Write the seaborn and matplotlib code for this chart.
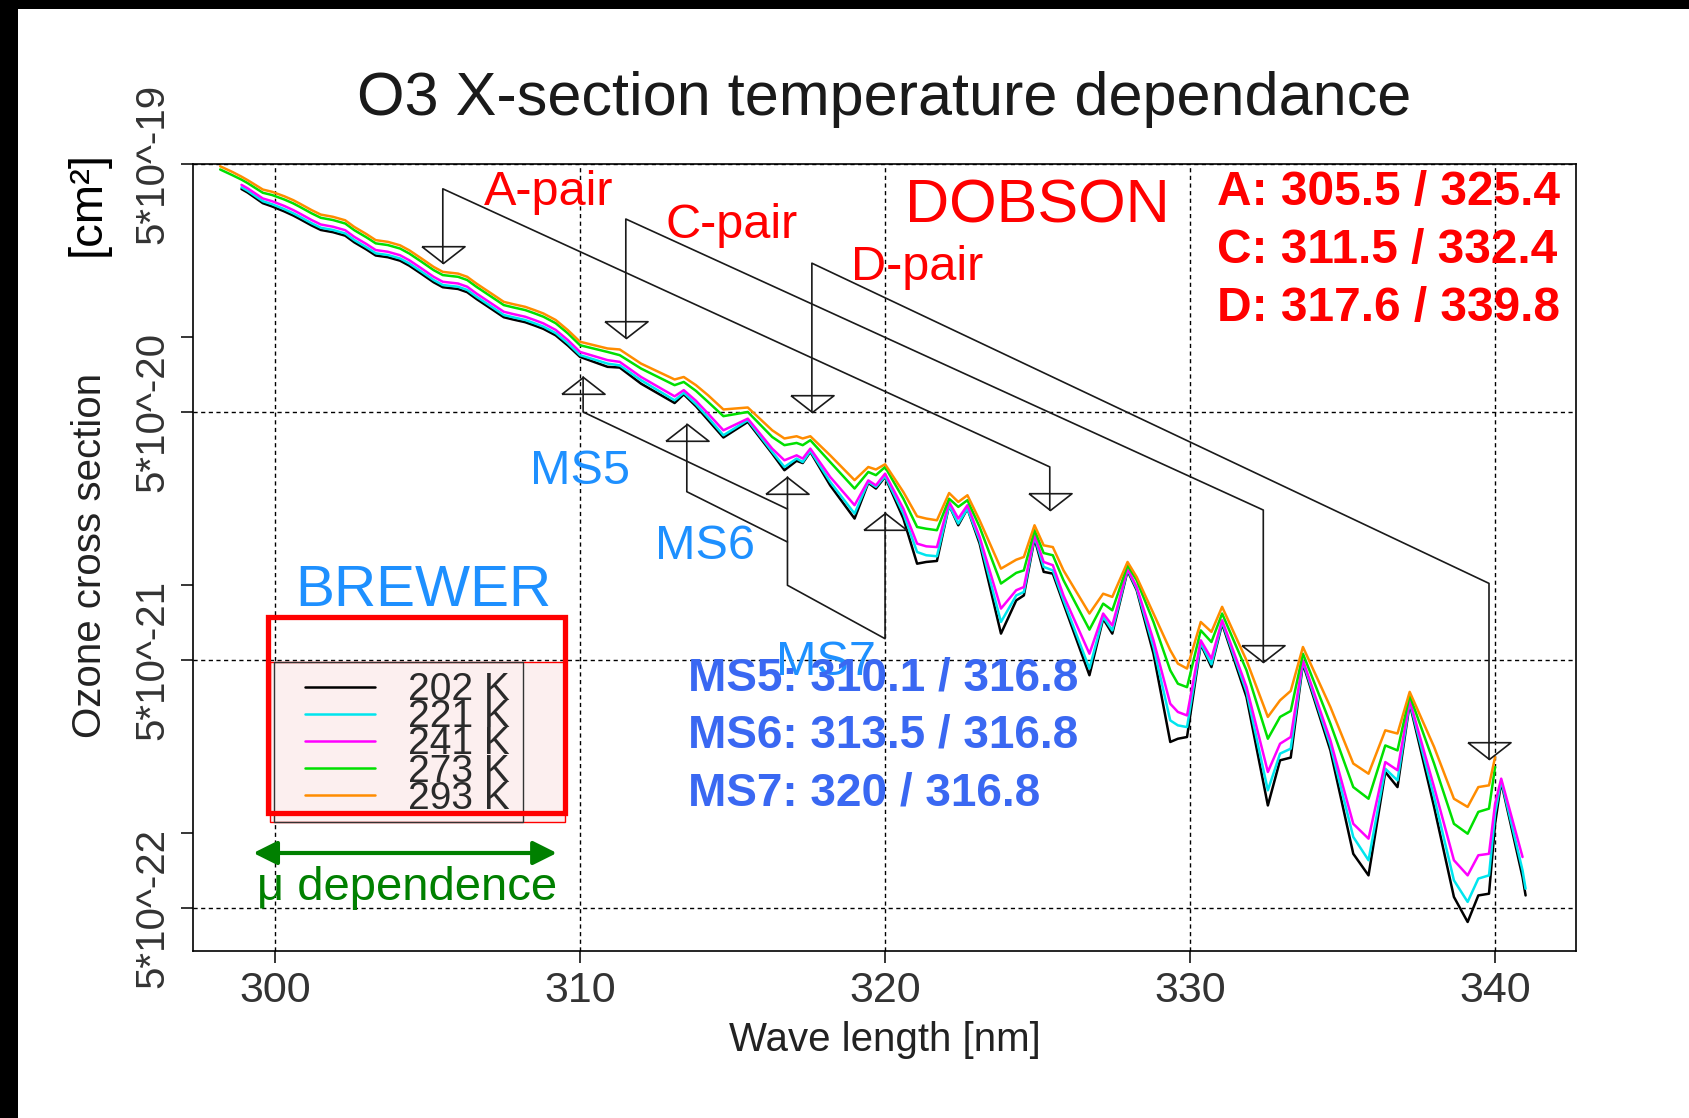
import matplotlib
matplotlib.use("Agg")
import matplotlib.pyplot as plt
import matplotlib.transforms as mtransforms
from matplotlib.patches import Rectangle
from matplotlib.ticker import NullFormatter
import numpy as np
import pandas as pd
import seaborn as sns

nan = np.nan

# wavelength grid [nm] and log10 of the O3 cross section [cm^2]
wavelength = [
    298.2, 298.6, 298.9, 299.1, 299.6, 299.9, 300.3, 300.6, 300.8, 301.2, 301.5,
    301.9, 302.3, 302.6, 303.0, 303.3, 303.7, 304.1, 304.4, 304.8, 305.2, 305.5,
    306.0, 306.3, 306.6, 307.1, 307.5, 307.8, 308.2, 308.5, 308.8, 309.2, 309.6,
    310.0, 310.9, 311.3, 312.0, 313.1, 313.4, 313.8, 314.2, 314.7, 315.5, 316.3,
    316.7, 317.1, 317.3, 317.55, 318.2, 319.0, 319.45, 319.7, 320.0,
    320.6, 321.05, 321.35, 321.7, 322.1, 322.4, 322.7, 323.1, 323.8, 324.3,
    324.55, 324.9, 325.2, 325.5, 325.85, 326.7, 327.15, 327.45, 327.95, 328.25,
    328.8, 329.35, 329.6, 329.9,
    330.35, 330.7, 331.05, 331.85, 332.55, 332.95, 333.3, 333.7, 334.6, 335.35,
    335.85, 336.4, 336.8, 337.2, 338.0, 338.65, 339.1, 339.45, 339.8, 340.0,
    340.2, 340.9, 341.0,
]

log_xs_293 = [
    -18.310, -18.333, -18.352, -18.366, -18.404, -18.413, -18.431, -18.447, -18.460, -18.487, -18.505,
    -18.514, -18.528, -18.555, -18.584, -18.608, -18.615, -18.629, -18.649, -18.682, -18.716, -18.736,
    -18.743, -18.756, -18.783, -18.824, -18.857, -18.866, -18.877, -18.890, -18.904, -18.930, -18.971,
    -19.018, -19.045, -19.049, -19.106, -19.170, -19.160, -19.193, -19.234, -19.291, -19.283, -19.375,
    -19.408, -19.399, -19.408, -19.399, -19.476, -19.576, -19.523, -19.533, -19.512,
    -19.624, -19.722, -19.731, -19.738, -19.628, -19.664, -19.637, -19.738, -19.933, -19.897,
    -19.886, -19.758, -19.839, -19.846, -19.940, -20.114, -20.034, -20.047, -19.906, -19.967,
    -20.114, -20.262, -20.316, -20.336,
    -20.148, -20.188, -20.087, -20.303, -20.531, -20.464, -20.426, -20.249, -20.491, -20.719,
    -20.760, -20.585, -20.598, -20.430, -20.652, -20.861, -20.894, -20.814, -20.807, -20.693,
    nan, nan, nan,
]

log_xs_273 = [
    -18.323, -18.346, -18.364, -18.378, -18.417, -18.426, -18.444, -18.460, -18.473, -18.500, -18.518,
    -18.527, -18.541, -18.568, -18.597, -18.621, -18.628, -18.642, -18.662, -18.695, -18.729, -18.749,
    -18.756, -18.769, -18.796, -18.837, -18.870, -18.879, -18.890, -18.903, -18.917, -18.943, -18.984,
    -19.032, -19.059, -19.072, -19.126, -19.193, -19.180, -19.216, -19.261, -19.318, -19.301, -19.402,
    -19.435, -19.426, -19.435, -19.415, -19.503, -19.610, -19.543, -19.556, -19.523,
    -19.651, -19.765, -19.772, -19.778, -19.651, -19.684, -19.657, -19.765, -19.993, -19.950,
    -19.940, -19.778, -19.870, -19.879, -19.980, -20.179, -20.074, -20.101, -19.919, -19.980,
    -20.148, -20.343, -20.397, -20.411,
    -20.182, -20.229, -20.114, -20.343, -20.619, -20.531, -20.507, -20.276, -20.558, -20.814,
    -20.861, -20.646, -20.666, -20.444, -20.719, -20.962, -21.002, -20.914, -20.901, -20.733,
    nan, nan, nan,
]

log_xs_241 = [
    nan, nan, -18.385, -18.399, -18.440, -18.451, -18.470, -18.487, -18.500, -18.527, -18.545,
    -18.554, -18.568, -18.595, -18.624, -18.648, -18.655, -18.669, -18.689, -18.722, -18.756, -18.776,
    -18.783, -18.796, -18.823, -18.864, -18.897, -18.906, -18.917, -18.930, -18.944, -18.970, -19.011,
    -19.059, -19.092, -19.099, -19.160, -19.238, -19.213, -19.256, -19.308, -19.375, -19.328, -19.449,
    -19.496, -19.476, -19.489, -19.449, -19.563, -19.677, -19.577, -19.597, -19.550,
    -19.691, -19.832, -19.843, -19.846, -19.664, -19.731, -19.677, -19.805, -20.094, -20.020,
    -20.007, -19.798, -19.906, -19.919, -20.041, -20.276, -20.114, -20.162, -19.933, -20.007,
    -20.222, -20.478, -20.511, -20.525,
    -20.222, -20.296, -20.141, -20.410, -20.753, -20.639, -20.612, -20.303, -20.625, -20.962,
    -21.022, -20.713, -20.746, -20.464, -20.814, -21.109, -21.170, -21.089, -21.083, -20.881,
    -20.780, -21.096, nan,
]

log_xs_221 = [
    nan, nan, -18.395, -18.409, -18.451, -18.463, -18.483, -18.500, -18.513, -18.540, -18.558,
    -18.567, -18.581, -18.608, -18.637, -18.661, -18.668, -18.682, -18.702, -18.735, -18.769, -18.789,
    -18.796, -18.809, -18.836, -18.877, -18.910, -18.919, -18.930, -18.943, -18.957, -18.983, -19.024,
    -19.072, -19.106, -19.113, -19.173, -19.254, -19.224, -19.270, -19.324, -19.395, -19.334, -19.462,
    -19.523, -19.489, -19.503, -19.458, -19.583, -19.711, -19.583, -19.603, -19.560,
    -19.711, -19.866, -19.879, -19.883, -19.677, -19.751, -19.691, -19.819, -20.148, -20.041,
    -20.027, -19.805, -19.926, -19.940, -20.061, -20.336, -20.128, -20.182, -19.937, -20.014,
    -20.249, -20.545, -20.565, -20.572,
    -20.233, -20.319, -20.148, -20.430, -20.827, -20.679, -20.659, -20.309, -20.646, -21.015,
    -21.109, -20.740, -20.787, -20.471, -20.854, -21.190, -21.277, -21.183, -21.170, -20.921,
    -20.787, -21.150, -21.224,
]

log_xs_202 = [
    nan, nan, -18.402, -18.416, -18.459, -18.472, -18.492, -18.509, -18.522, -18.549, -18.567,
    -18.576, -18.590, -18.617, -18.646, -18.670, -18.677, -18.691, -18.711, -18.744, -18.778, -18.798,
    -18.805, -18.818, -18.845, -18.886, -18.919, -18.928, -18.939, -18.952, -18.966, -18.992, -19.033,
    -19.079, -19.119, -19.122, -19.187, -19.265, -19.230, -19.278, -19.334, -19.404, -19.341, -19.469,
    -19.536, -19.498, -19.507, -19.462, -19.597, -19.731, -19.587, -19.610, -19.563,
    -19.731, -19.913, -19.906, -19.902, -19.677, -19.758, -19.691, -19.832, -20.195, -20.061,
    -20.041, -19.812, -19.946, -19.953, -20.074, -20.363, -20.135, -20.195, -19.942, -20.020,
    -20.276, -20.632, -20.619, -20.612,
    -20.238, -20.330, -20.155, -20.451, -20.888, -20.706, -20.695, -20.316, -20.666, -21.083,
    -21.170, -20.753, -20.814, -20.477, -20.894, -21.257, -21.358, -21.251, -21.244, -20.962,
    -20.793, -21.177, -21.251,
]

temps = ["202 K", "221 K", "241 K", "273 K", "293 K"]
colors = ["#000000", "#00e5ee", "#ff00ff", "#00e000", "#ff8c00"]

# Dobson wavelength pairs and Brewer slits [nm]
dobson_pairs = [("A", 305.5, 325.4), ("C", 311.5, 332.4), ("D", 317.6, 339.8)]
brewer_slits = [("MS5", 310.1), ("MS6", 313.5), ("MS7", 320.0)]
brewer_ref = 316.8

x_ticks = [300, 310, 320, 330, 340]
y_ticks = [5e-19, 5e-20, 5e-21, 5e-22]
y_ticklabels = ["5*10^-19", "5*10^-20", "5*10^-21", "5*10^-22"]
y_minor = [1e-19, 1e-20, 1e-21]

# ---- layout (axes-fraction heights for the bracket arrows) ----
dobson_levels = [  # top, left apex, right corner, right apex
    (0.9685, 0.8740, 0.6151, 0.5603),
    (0.9301, 0.7795, 0.5603, 0.3671),
    (0.8740, 0.6849, 0.4671, 0.2438),
]
brewer_levels = [  # apex, bottom, end on reference line
    (0.7295, 0.6849, 0.5616),
    (0.6693, 0.5836, 0.5197),
]
ref_levels = (0.6023, 0.4647, 0.3968, 0.5571)

sns.set_style("ticks", rc={"axes.edgecolor": "black", "xtick.color": "black",
                           "ytick.color": "black", "text.color": "#1a1a1a",
                           "axes.labelcolor": "#1a1a1a"})
plt.rcParams["font.family"] = ["Liberation Sans", "DejaVu Sans"]

series = dict(zip(temps, [log_xs_202, log_xs_221, log_xs_241, log_xs_273, log_xs_293]))
df = pd.DataFrame({"wavelength": wavelength, **series})
df = df.melt(id_vars="wavelength", var_name="temp", value_name="log_xs").dropna()
df["xs"] = 10.0 ** df["log_xs"]

fig = plt.figure(figsize=(16.9, 11.18), dpi=100)
ax = fig.add_axes([0.1142, 0.1494, 0.8183, 0.7039])

sns.lineplot(data=df, x="wavelength", y="xs", hue="temp", hue_order=temps,
             palette=colors, linewidth=1.8, errorbar=None, ax=ax, zorder=2)

ax.set_yscale("log")
ax.set_xlim(297.31, 342.65)
ax.set_ylim(3.35e-22, 5e-19)
ax.set_xticks(x_ticks)
ax.set_yticks(y_ticks, labels=y_ticklabels)
ax.set_yticks(y_minor, minor=True)
ax.yaxis.set_minor_formatter(NullFormatter())
ax.tick_params(axis="x", which="both", length=8.6, width=1.1, pad=6, labelsize=31,
               labelcolor="#333333")
ax.tick_params(axis="y", which="both", length=8.6, width=1.1, pad=7, labelsize=29,
               labelrotation=90, labelcolor="#333333")
for lbl in ax.get_yticklabels():
    lbl.set_va("center")
for sp in ax.spines.values():
    sp.set_linewidth(1.2)
    sp.set_visible(True)
ax.grid(True, which="major", axis="both", color="black", linestyle=(0, (3, 2.5)),
        linewidth=1.0)
ax.set_xlabel("Wave length [nm]", fontsize=29, labelpad=7, color="#222222")
ax.set_ylabel("")

fig.text(884 / 1690, 1 - 115 / 1118, "O3 X-section temperature dependance",
         ha="center", va="baseline", fontsize=44)
fig.text(90 / 1690, 1 - 555 / 1118, "Ozone cross section", rotation=90,
         ha="center", va="center", fontsize=29, color="#222222")
fig.text(88 / 1690, 1 - 203 / 1118, "[cm²]", rotation=90,
         ha="center", va="center", fontsize=34, color="black")

# ---- bracket arrows ----
trans = mtransforms.blended_transform_factory(ax.transData, ax.transAxes)
down = [(-1, 0.78), (1, 0.78), (0, 0), (-1, 0.78)]
up = [(-1, -0.78), (1, -0.78), (0, 0), (-1, -0.78)]
arrow_kw = dict(color="#1a1a1a", lw=1.2, transform=trans, zorder=4)
tri_kw = dict(ls="none", ms=31, mfc="none", mec="#1a1a1a", mew=1.2,
              transform=trans, zorder=4)

for (name, w1, w2), (top, apex1, corner2, apex2) in zip(dobson_pairs, dobson_levels):
    ax.plot([w1, w1, w2, w2], [apex1, top, corner2, apex2], **arrow_kw)
    ax.plot([w1, w2], [apex1, apex2], marker=down, **tri_kw)

for (name, w), (apex, bottom, end) in zip(brewer_slits[:2], brewer_levels):
    ax.plot([w, w, brewer_ref], [apex, bottom, end], **arrow_kw)
    ax.plot([w], [apex], marker=up, **tri_kw)

w7 = brewer_slits[2][1]
ax.plot([brewer_ref, brewer_ref, w7, w7],
        [ref_levels[0], ref_levels[1], ref_levels[2], ref_levels[3]], **arrow_kw)
ax.plot([brewer_ref, w7], [ref_levels[0], ref_levels[3]], marker=up, **tri_kw)

# ---- annotation texts ----
red = "#ff0000"
sky = "#1e90ff"
royal = "#3a68f2"
tkw = dict(transform=ax.transAxes, ha="left", va="baseline")
ax.text(0.2104, 0.9479, "A-pair", color=red, fontsize=35, zorder=5, **tkw)
ax.text(0.3414, 0.9060, "C-pair", color=red, fontsize=35, zorder=5, **tkw)
ax.text(0.4755, 0.8521, "D-pair", color=red, fontsize=35, zorder=5, **tkw)
ax.text(0.5152, 0.9252, "DOBSON", color=red, fontsize=44, zorder=5, **tkw)
for (name, w1, w2), yb in zip(dobson_pairs, [0.9477, 0.8736, 0.8007]):
    ax.text(0.7406, yb, f"{name}: {w1} / {w2}", color=red, fontsize=34.5,
            fontweight="bold", zorder=6, **tkw)

for (name, w), (xa, ya) in zip(brewer_slits, [(0.2437, 0.5932), (0.3341, 0.4986),
                                             (0.4217, 0.3507)]):
    ax.text(xa, ya, name, color=sky, fontsize=35, zorder=5, **tkw)
for (name, w), yb in zip(brewer_slits, [0.3304, 0.2584, 0.1851]):
    ax.text(0.3576, yb, f"{name}: {w:g} / {brewer_ref}", color=royal, fontsize=33,
            fontweight="bold", zorder=6, **tkw)
ax.text(0.0738, 0.4379, "BREWER", color=sky, fontsize=42, zorder=5, **tkw)

# legend box and the red highlight around it
ax.add_patch(Rectangle((0.0557, 0.1634), 0.2130, 0.2034, transform=ax.transAxes,
                       facecolor="#fcefef", edgecolor=red, lw=1.0, zorder=3))
ax.add_patch(Rectangle((0.0586, 0.1634), 0.1801, 0.2034, transform=ax.transAxes,
                       facecolor="none", edgecolor="#333333", lw=1.0, zorder=3.1))
ax.add_patch(Rectangle((0.0543, 0.1749), 0.2144, 0.2491, transform=ax.transAxes,
                       facecolor="none", edgecolor=red, lw=3.8, zorder=6))
sns.move_legend(ax, "upper left", bbox_to_anchor=(0.0811, 0.354), frameon=False,
                title=None, fontsize=28, handlelength=1.8, handletextpad=0.85,
                labelspacing=-0.23, borderpad=0, borderaxespad=0,
                labelcolor="#2a2a2a")

ax.annotate("", xy=(0.2631, 0.1245), xytext=(0.0436, 0.1245),
            xycoords="axes fraction", textcoords="axes fraction",
            arrowprops=dict(arrowstyle="<|-|>,head_length=0.72,head_width=0.36",
                            color="#008000", lw=3, shrinkA=0, shrinkB=0,
                            mutation_scale=20), zorder=6)
ax.text(0.0465, 0.0652, "μ dependence", color="#008000", fontsize=34, zorder=6, **tkw)

# black frame on the top and left of the slide
fig.add_artist(Rectangle((0, 1 - 9 / 1118), 1, 9 / 1118, transform=fig.transFigure,
                         facecolor="black", edgecolor="none"))
fig.add_artist(Rectangle((0, 0), 18 / 1690, 1, transform=fig.transFigure,
                         facecolor="black", edgecolor="none"))

fig.savefig("out.png", dpi=100)
